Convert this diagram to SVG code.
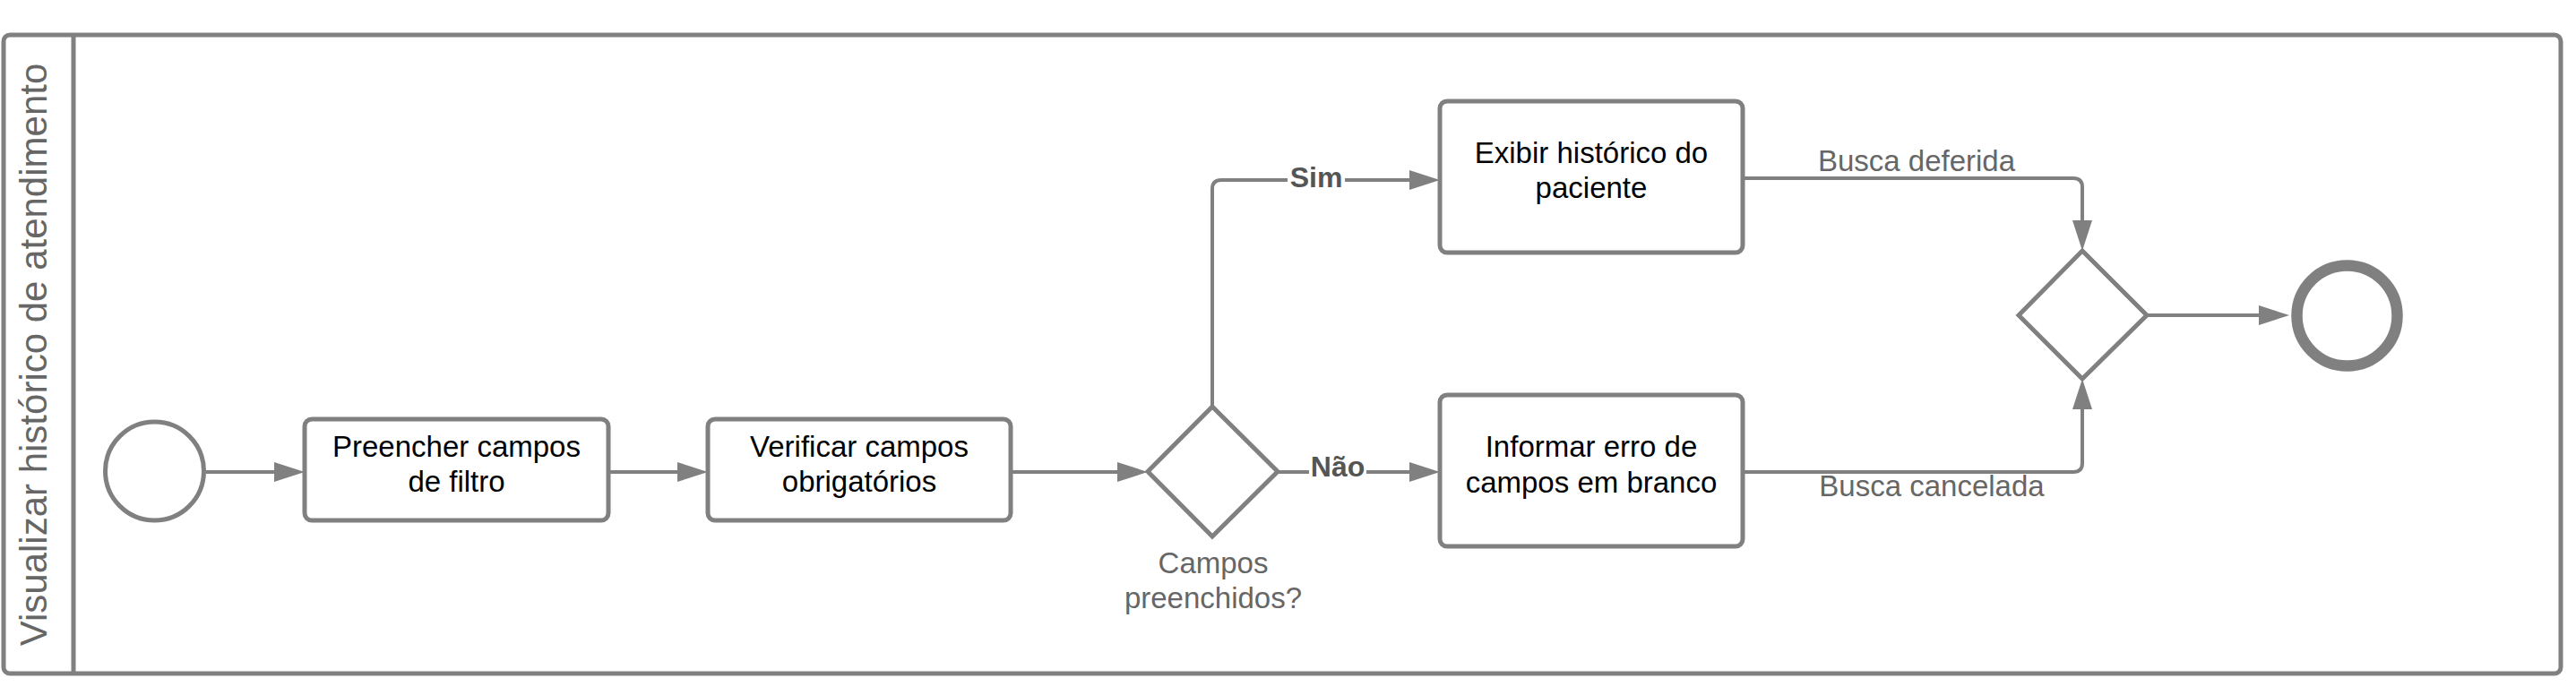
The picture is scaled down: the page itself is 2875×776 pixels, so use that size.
<svg xmlns="http://www.w3.org/2000/svg" width="2875" height="776" viewBox="0 0 2875 776">
  <style>
    .shape { fill: #ffffff; stroke: #808080; stroke-width: 5; }
    .conn { fill: none; stroke: #808080; stroke-width: 4; }
    .txt { font-family: "Liberation Sans", Arial, sans-serif; font-size: 33px; fill: #000000; text-anchor: middle; }
    .lbl { font-family: "Liberation Sans", Arial, sans-serif; font-size: 33px; fill: #666666; text-anchor: middle; }
    .blbl { font-family: "Liberation Sans", Arial, sans-serif; font-size: 32px; font-weight: bold; fill: #555555; text-anchor: middle; }
    .lane { font-family: "Liberation Sans", Arial, sans-serif; font-size: 42px; fill: #666666; text-anchor: middle; }
  </style>
  <defs>
    <marker id="arr" markerUnits="userSpaceOnUse" markerWidth="34" markerHeight="22" viewBox="0 0 34 22" refX="14" refY="11" orient="auto">
      <path d="M0,0 L34,11 L0,22 Z" fill="#808080"/>
    </marker>
  </defs>
  <rect width="2875" height="776" fill="#ffffff"/>

  <g id="pool">
    <rect class="shape" x="4" y="39" width="2854" height="713" rx="7"/>
    <line x1="82" y1="39" x2="82" y2="752" stroke="#808080" stroke-width="5"/>
    <text class="lane" transform="translate(52,396) rotate(-90)">Visualizar histórico de atendimento</text>
  </g>

  <g id="connectors">
    <path class="conn" d="M230,527 H320" marker-end="url(#arr)"/>
    <path class="conn" d="M679,527 H770" marker-end="url(#arr)"/>
    <path class="conn" d="M1128,527 H1261" marker-end="url(#arr)"/>
    <path class="conn" d="M1353,454 V211 Q1353,201 1363,201 H1587" marker-end="url(#arr)"/>
    <path class="conn" d="M1426,527 H1587" marker-end="url(#arr)"/>
    <path class="conn" d="M1945,199 H2314 Q2324,199 2324,209 V260" marker-end="url(#arr)"/>
    <path class="conn" d="M1945,527 H2314 Q2324,527 2324,517 V443" marker-end="url(#arr)"/>
    <path class="conn" d="M2396,352 H2535" marker-end="url(#arr)"/>
    <rect x="1437" y="184" width="64" height="32" fill="#ffffff"/>
    <text class="blbl" x="1469" y="209">Sim</text>
    <rect x="1461" y="508" width="64" height="32" fill="#ffffff"/>
    <text class="blbl" x="1493" y="532">Não</text>
    <text class="lbl" x="2139" y="191">Busca deferida</text>
    <text class="lbl" x="2156" y="554">Busca cancelada</text>
  </g>

  <g id="start">
    <circle class="shape" cx="172.5" cy="526" r="55"/>
  </g>

  <g id="preencher">
    <rect class="shape" x="340" y="468" width="339" height="113" rx="8"/>
    <text class="txt" x="509.5" y="510">Preencher campos</text>
    <text class="txt" x="509.5" y="549">de filtro</text>
  </g>

  <g id="verificar">
    <rect class="shape" x="790" y="468" width="338" height="113" rx="8"/>
    <text class="txt" x="959" y="510">Verificar campos</text>
    <text class="txt" x="959" y="549">obrigatórios</text>
  </g>

  <g id="gateway1">
    <polygon class="shape" points="1353,454 1426,526.5 1353,599 1281,526.5"/>
    <text class="lbl" x="1354" y="640">Campos</text>
    <text class="lbl" x="1354" y="679">preenchidos?</text>
  </g>

  <g id="exibir">
    <rect class="shape" x="1607" y="113" width="338" height="169" rx="8"/>
    <text class="txt" x="1776" y="182">Exibir histórico do</text>
    <text class="txt" x="1776" y="221">paciente</text>
  </g>

  <g id="informar">
    <rect class="shape" x="1607" y="441" width="338" height="169" rx="8"/>
    <text class="txt" x="1776" y="510">Informar erro de</text>
    <text class="txt" x="1776" y="550">campos em branco</text>
  </g>

  <g id="gateway2">
    <polygon class="shape" points="2324,280 2396,352 2324,423 2253,352"/>
  </g>

  <g id="end">
    <circle cx="2619.5" cy="352.5" r="56" fill="#ffffff" stroke="#808080" stroke-width="12.5"/>
  </g>
</svg>
